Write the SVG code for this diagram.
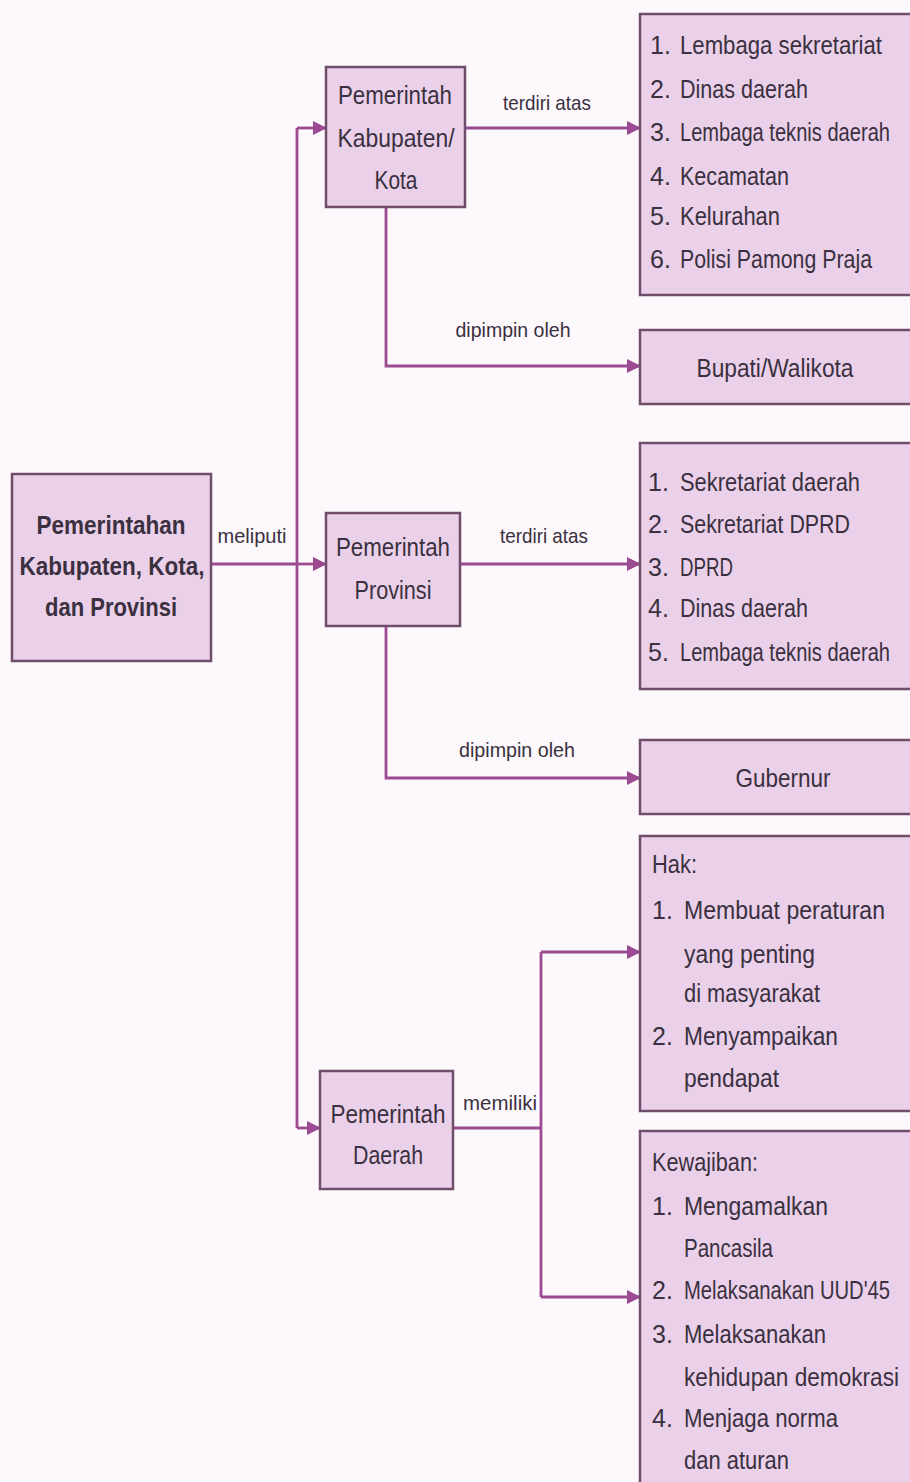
<svg xmlns="http://www.w3.org/2000/svg" width="910" height="1482" viewBox="0 0 910 1482">
<style>
.box{fill:#ebd0e9;stroke:#6f4d6b;stroke-width:2.5}
.t{font-family:"Liberation Sans",sans-serif;font-size:25px;fill:#3a3040}
.b{font-weight:bold}
.m{text-anchor:middle}
.lbl{font-family:"Liberation Sans",sans-serif;font-size:21px;fill:#3a3040;text-anchor:middle}
.c{fill:none;stroke:#9c4a92;stroke-width:2.8}
</style>
<defs>
<marker id="ah" markerWidth="14" markerHeight="14" refX="12" refY="7" orient="auto" markerUnits="userSpaceOnUse" viewBox="0 0 14 14">
<path d="M0,0 L14,7 L0,14 Z" fill="#9c4a92"/>
</marker>
</defs>
<rect width="910" height="1482" fill="#fdf8fc"/>
<g id="connectors">
<path class="c" d="M211,564 H297"/>
<path class="c" d="M297,128 V1128"/>
<path class="c" d="M297,128 H325" marker-end="url(#ah)"/>
<path class="c" d="M297,564 H325" marker-end="url(#ah)"/>
<path class="c" d="M297,1128 H319" marker-end="url(#ah)"/>
<path class="c" d="M465,128 H639" marker-end="url(#ah)"/>
<path class="c" d="M386,207 V366 H639" marker-end="url(#ah)"/>
<path class="c" d="M460,564 H639" marker-end="url(#ah)"/>
<path class="c" d="M386,626 V778 H639" marker-end="url(#ah)"/>
<path class="c" d="M453,1128 H541"/>
<path class="c" d="M541,952 V1297"/>
<path class="c" d="M541,952 H639" marker-end="url(#ah)"/>
<path class="c" d="M541,1297 H639" marker-end="url(#ah)"/>
<text class="lbl" x="252" y="543" textLength="69" lengthAdjust="spacingAndGlyphs">meliputi</text>
<text class="lbl" x="547" y="110" textLength="88" lengthAdjust="spacingAndGlyphs">terdiri atas</text>
<text class="lbl" x="513" y="337" textLength="115" lengthAdjust="spacingAndGlyphs">dipimpin oleh</text>
<text class="lbl" x="544" y="543" textLength="88" lengthAdjust="spacingAndGlyphs">terdiri atas</text>
<text class="lbl" x="517" y="757" textLength="116" lengthAdjust="spacingAndGlyphs">dipimpin oleh</text>
<text class="lbl" x="500" y="1110" textLength="74" lengthAdjust="spacingAndGlyphs">memiliki</text>
</g>
<g id="main">
<rect class="box" x="12" y="474" width="199" height="187"/>
<text class="t b m" x="111" y="534" textLength="149" lengthAdjust="spacingAndGlyphs">Pemerintahan</text>
<text class="t b m" x="112" y="575" textLength="185" lengthAdjust="spacingAndGlyphs">Kabupaten, Kota,</text>
<text class="t b m" x="111" y="616" textLength="132" lengthAdjust="spacingAndGlyphs">dan Provinsi</text>
</g>
<g id="kab">
<rect class="box" x="326" y="67" width="139" height="140"/>
<text class="t m" x="395" y="104" textLength="114" lengthAdjust="spacingAndGlyphs">Pemerintah</text>
<text class="t m" x="396" y="147" textLength="117" lengthAdjust="spacingAndGlyphs">Kabupaten/</text>
<text class="t m" x="396" y="189" textLength="43" lengthAdjust="spacingAndGlyphs">Kota</text>
</g>
<g id="kab-list">
<rect class="box" x="640" y="14" width="275" height="281"/>
<text class="t" x="650" y="54">1.</text><text class="t" x="680" y="54" textLength="202" lengthAdjust="spacingAndGlyphs">Lembaga sekretariat</text>
<text class="t" x="650" y="98">2.</text><text class="t" x="680" y="98" textLength="128" lengthAdjust="spacingAndGlyphs">Dinas daerah</text>
<text class="t" x="650" y="141">3.</text><text class="t" x="680" y="141" textLength="210" lengthAdjust="spacingAndGlyphs">Lembaga teknis daerah</text>
<text class="t" x="650" y="185">4.</text><text class="t" x="680" y="185" textLength="109" lengthAdjust="spacingAndGlyphs">Kecamatan</text>
<text class="t" x="650" y="225">5.</text><text class="t" x="680" y="225" textLength="100" lengthAdjust="spacingAndGlyphs">Kelurahan</text>
<text class="t" x="650" y="268">6.</text><text class="t" x="680" y="268" textLength="192" lengthAdjust="spacingAndGlyphs">Polisi Pamong Praja</text>
</g>
<g id="bupati">
<rect class="box" x="640" y="330" width="275" height="74"/>
<text class="t m" x="775" y="377" textLength="157" lengthAdjust="spacingAndGlyphs">Bupati/Walikota</text>
</g>
<g id="prov">
<rect class="box" x="326" y="513" width="134" height="113"/>
<text class="t m" x="393" y="556" textLength="114" lengthAdjust="spacingAndGlyphs">Pemerintah</text>
<text class="t m" x="393" y="599" textLength="77" lengthAdjust="spacingAndGlyphs">Provinsi</text>
</g>
<g id="prov-list">
<rect class="box" x="640" y="443" width="275" height="246"/>
<text class="t" x="648" y="491">1.</text><text class="t" x="680" y="491" textLength="180" lengthAdjust="spacingAndGlyphs">Sekretariat daerah</text>
<text class="t" x="648" y="533">2.</text><text class="t" x="680" y="533" textLength="170" lengthAdjust="spacingAndGlyphs">Sekretariat DPRD</text>
<text class="t" x="648" y="576">3.</text><text class="t" x="680" y="576" textLength="53" lengthAdjust="spacingAndGlyphs">DPRD</text>
<text class="t" x="648" y="617">4.</text><text class="t" x="680" y="617" textLength="128" lengthAdjust="spacingAndGlyphs">Dinas daerah</text>
<text class="t" x="648" y="661">5.</text><text class="t" x="680" y="661" textLength="210" lengthAdjust="spacingAndGlyphs">Lembaga teknis daerah</text>
</g>
<g id="gubernur">
<rect class="box" x="640" y="740" width="275" height="74"/>
<text class="t m" x="783" y="787" textLength="95" lengthAdjust="spacingAndGlyphs">Gubernur</text>
</g>
<g id="daerah">
<rect class="box" x="320" y="1071" width="133" height="118"/>
<text class="t m" x="388" y="1123" textLength="115" lengthAdjust="spacingAndGlyphs">Pemerintah</text>
<text class="t m" x="388" y="1164" textLength="70" lengthAdjust="spacingAndGlyphs">Daerah</text>
</g>
<g id="hak">
<rect class="box" x="640" y="836" width="275" height="275"/>
<text class="t" x="652" y="873" textLength="45" lengthAdjust="spacingAndGlyphs">Hak:</text>
<text class="t" x="652" y="919">1.</text><text class="t" x="684" y="919" textLength="201" lengthAdjust="spacingAndGlyphs">Membuat peraturan</text>
<text class="t" x="684" y="963" textLength="131" lengthAdjust="spacingAndGlyphs">yang penting</text>
<text class="t" x="684" y="1002" textLength="136" lengthAdjust="spacingAndGlyphs">di masyarakat</text>
<text class="t" x="652" y="1045">2.</text><text class="t" x="684" y="1045" textLength="154" lengthAdjust="spacingAndGlyphs">Menyampaikan</text>
<text class="t" x="684" y="1087" textLength="95" lengthAdjust="spacingAndGlyphs">pendapat</text>
</g>
<g id="kewajiban">
<rect class="box" x="640" y="1131" width="275" height="370"/>
<text class="t" x="652" y="1171" textLength="106" lengthAdjust="spacingAndGlyphs">Kewajiban:</text>
<text class="t" x="652" y="1215">1.</text><text class="t" x="684" y="1215" textLength="144" lengthAdjust="spacingAndGlyphs">Mengamalkan</text>
<text class="t" x="684" y="1257" textLength="89" lengthAdjust="spacingAndGlyphs">Pancasila</text>
<text class="t" x="652" y="1299">2.</text><text class="t" x="684" y="1299" textLength="206" lengthAdjust="spacingAndGlyphs">Melaksanakan UUD'45</text>
<text class="t" x="652" y="1343">3.</text><text class="t" x="684" y="1343" textLength="142" lengthAdjust="spacingAndGlyphs">Melaksanakan</text>
<text class="t" x="684" y="1386" textLength="215" lengthAdjust="spacingAndGlyphs">kehidupan demokrasi</text>
<text class="t" x="652" y="1427">4.</text><text class="t" x="684" y="1427" textLength="154" lengthAdjust="spacingAndGlyphs">Menjaga norma</text>
<text class="t" x="684" y="1469" textLength="105" lengthAdjust="spacingAndGlyphs">dan aturan</text>
</g>
</svg>
